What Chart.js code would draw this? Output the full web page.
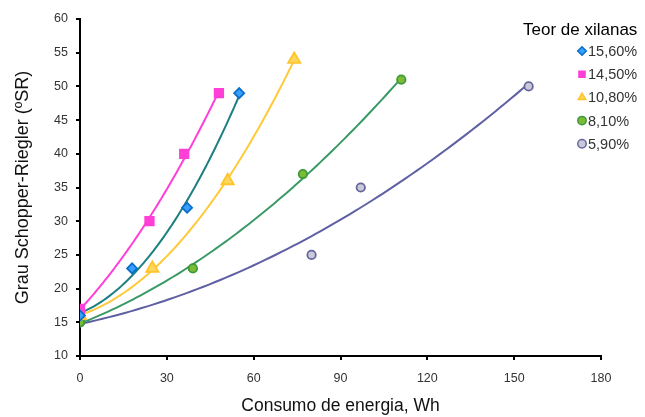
<!DOCTYPE html>
<html>
<head>
<meta charset="utf-8">
<script src="https://cdn.jsdelivr.net/npm/chart.js@4"></script>
<style>
  html, body { margin: 0; padding: 0; background: #fff; }
  #wrap { width: 645px; height: 417px; }
</style>
</head>
<body>
<div id="wrap"><canvas id="c" width="645" height="417"></canvas></div>
<script>
// Refining trials: energy consumed vs. Schopper-Riegler degree, per xylan content
const seriesNames = ['15,60%', '14,50%', '10,80%', '8,10%', '5,90%'];
const energy156 = [0, 18, 37, 55];
const sr156     = [16, 23, 32, 49];
const energy145 = [0, 24, 36, 48];
const sr145     = [17, 30, 40, 49];
const energy108 = [0, 25, 51, 74];
const sr108     = [16, 23, 36, 54];
const energy81  = [0, 39, 77, 111];
const sr81      = [15, 23, 37, 51];
const energy59  = [0, 80, 97, 155];
const sr59      = [15, 25, 35, 50];
const xTicks = [0, 30, 60, 90, 120, 150, 180];
const yTicks = [10, 15, 20, 25, 30, 35, 40, 45, 50, 55, 60];

const styles = [
  { line: '#1d7f80', border: '#0b6fc8', fill: '#38a0ff', shape: 'rectRot', r: 5 },
  { line: '#ff3fd6', border: '#ff3fd6', fill: '#ff3fd6', shape: 'rect', r: 6 },
  { line: '#ffc93a', border: '#ffc42a', fill: '#ffd75a', shape: 'triangle', r: 7 },
  { line: '#3a9a66', border: '#3d9a3a', fill: '#7dbb35', shape: 'circle', r: 4.2 },
  { line: '#5f5fa3', border: '#66669c', fill: '#c9c9da', shape: 'circle', r: 4.2 }
];
const xs = [energy156, energy145, energy108, energy81, energy59];
const ys = [sr156, sr145, sr108, sr81, sr59];

// Second-order polynomial least-squares trendline  y = a + b x + c x^2
function polyFit(x, y) {
  const S = k => x.reduce((s, v) => s + v ** k, 0);
  const T = k => x.reduce((s, v, i) => s + y[i] * v ** k, 0);
  const M = [[S(0), S(1), S(2), T(0)], [S(1), S(2), S(3), T(1)], [S(2), S(3), S(4), T(2)]];
  for (let i = 0; i < 3; i++) {
    for (let j = i + 1; j < 3; j++) {
      const f = M[j][i] / M[i][i];
      for (let k = i; k < 4; k++) M[j][k] -= f * M[i][k];
    }
  }
  const c = [0, 0, 0];
  for (let i = 2; i >= 0; i--) {
    let s = M[i][3];
    for (let k = i + 1; k < 3; k++) s -= M[i][k] * c[k];
    c[i] = s / M[i][i];
  }
  return v => c[0] + c[1] * v + c[2] * v * v;
}
function trend(x, y) {
  const f = polyFit(x, y);
  const lo = Math.min(...x), hi = Math.max(...x);
  const pts = [];
  for (let i = 0; i <= 80; i++) { const v = lo + (hi - lo) * i / 80; pts.push({ x: v, y: f(v) }); }
  return pts;
}

const datasets = [];
seriesNames.forEach((name, k) => {
  const s = styles[k];
  datasets.push({
    label: name, isMarker: true, order: 0,
    data: xs[k].map((v, i) => ({ x: v, y: ys[k][i] })),
    showLine: false, pointStyle: s.shape, pointRadius: s.r,
    pointBackgroundColor: s.fill, pointBorderColor: s.border, pointBorderWidth: 1.8
  });
});
seriesNames.forEach((name, k) => {
  datasets.push({
    label: name + ' trend', order: 1,
    data: trend(xs[k], ys[k]),
    showLine: true, pointRadius: 0, borderColor: styles[k].line, borderWidth: 2,
    tension: 0, fill: false
  });
});

const FONT = '"Liberation Sans", Arial, sans-serif';

const legendPlugin = {
  id: 'xylanLegend',
  afterDraw(chart) {
    const ctx = chart.ctx;
    ctx.save();
    ctx.fillStyle = '#000';
    ctx.font = '17px ' + FONT;
    ctx.textBaseline = 'middle';
    ctx.textAlign = 'left';
    ctx.fillText('Teor de xilanas', 523, 30);
    chart.data.datasets.filter(d => d.isMarker).forEach((d, i) => {
      const y = 51 + i * 23.2;
      ctx.fillStyle = d.pointBackgroundColor;
      ctx.strokeStyle = d.pointBorderColor;
      ctx.lineWidth = 1.5;
      Chart.helpers.drawPoint(ctx, {
        pointStyle: d.pointStyle, radius: Math.min(d.pointRadius, 4.3), rotation: 0,
        borderWidth: 1.5
      }, 582, y);
      ctx.fillStyle = '#333';
      ctx.font = '14.5px ' + FONT;
      ctx.textBaseline = 'middle';
      ctx.fillText(d.label, 588, y + 1);
    });
    ctx.restore();
  }
};

new Chart(document.getElementById('c'), {
  type: 'scatter',
  data: { datasets },
  plugins: [legendPlugin],
  options: {
    responsive: false,
    animation: false,
    devicePixelRatio: 1,
    layout: { padding: { top: 19, right: 44, left: 0, bottom: 0 } },
    plugins: { legend: { display: false }, tooltip: { enabled: false } },
    scales: {
      x: {
        type: 'linear', min: 0, max: 180,
        afterBuildTicks: s => { s.ticks = xTicks.map(v => ({ value: v })); },
        afterFit: s => { s.height = 61; },
        border: { color: '#000', width: 2 },
        grid: { drawOnChartArea: false, drawTicks: true, tickLength: 4, color: '#000', lineWidth: 2 },
        ticks: { color: '#333', font: { family: FONT, size: 12.5 }, padding: 11 },
        title: { display: true, text: 'Consumo de energia, Wh', color: '#111',
                 font: { family: FONT, size: 17.5 }, padding: { top: 9, bottom: 0 } }
      },
      y: {
        type: 'linear', min: 10, max: 60,
        afterBuildTicks: s => { s.ticks = yTicks.map(v => ({ value: v })); },
        afterFit: s => { s.width = 80; },
        border: { color: '#000', width: 2 },
        grid: { drawOnChartArea: false, drawTicks: true, tickLength: 4, color: '#000', lineWidth: 2 },
        ticks: { color: '#333', font: { family: FONT, size: 12.5 }, padding: 8 },
        title: { display: true, text: 'Grau Schopper-Riegler (ºSR)', color: '#111',
                 font: { family: FONT, size: 18 }, padding: { top: 12, bottom: 0 } }
      }
    }
  }
});
</script>
</body>
</html>
